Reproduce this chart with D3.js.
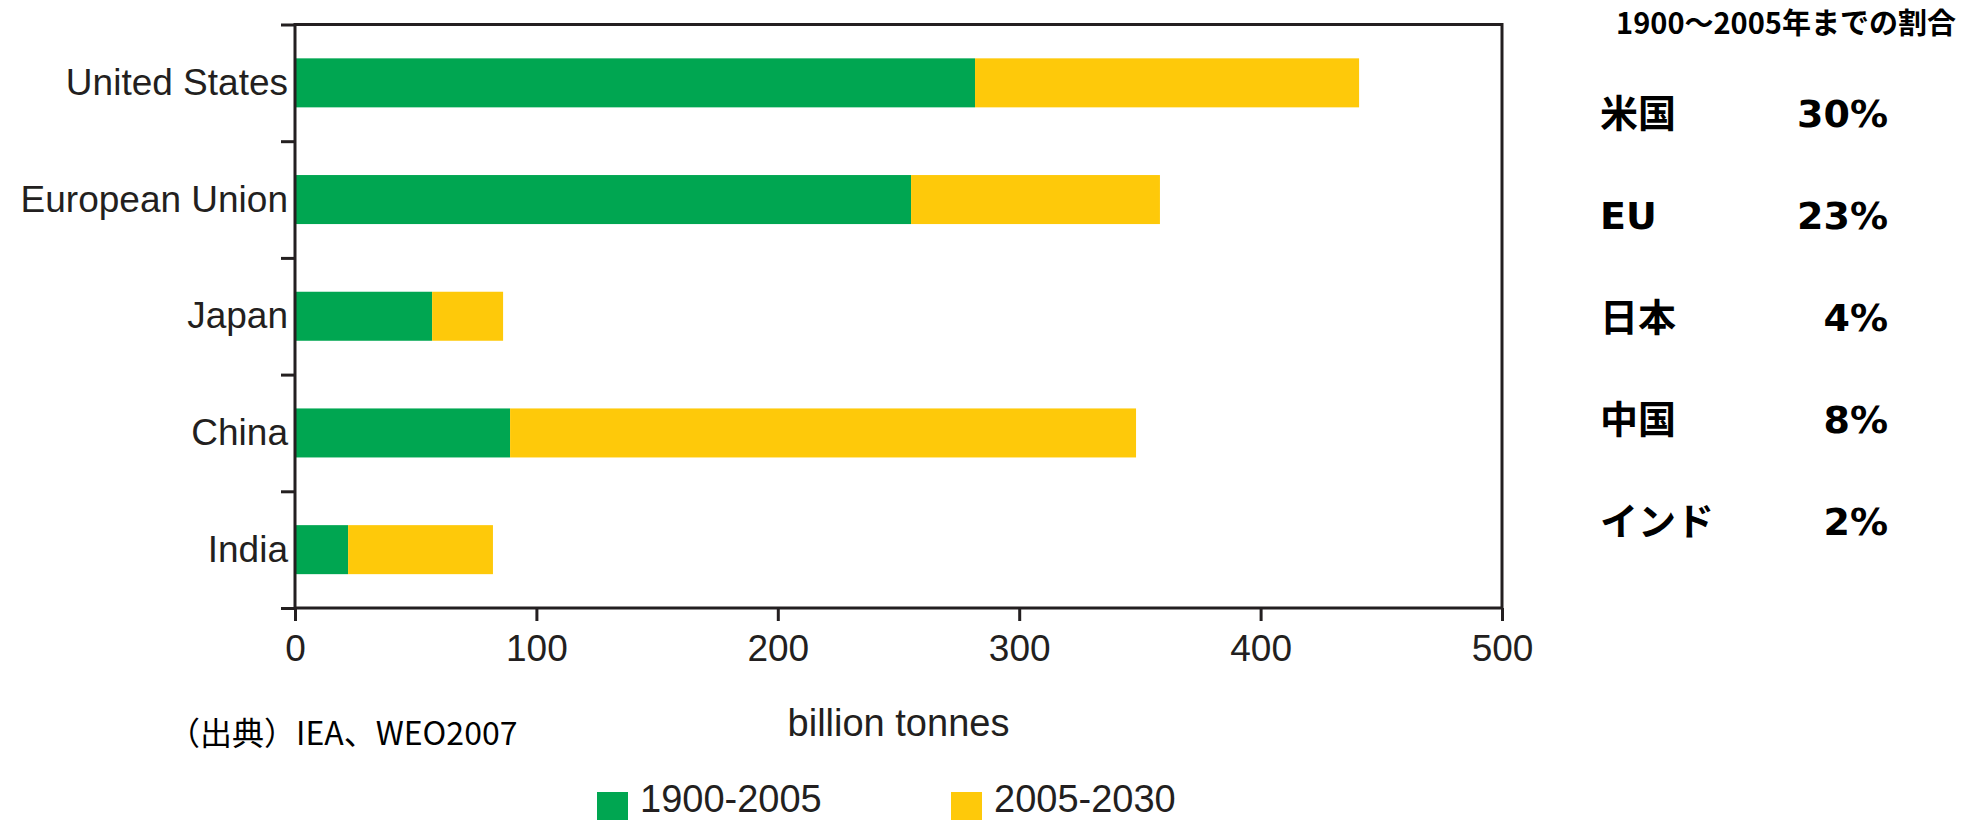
<!DOCTYPE html>
<html>
<head>
<meta charset="utf-8">
<script src="https://cdn.jsdelivr.net/npm/d3@7"></script>
<style>
  body { margin: 0; background: #fff; }
  svg { display: block; }
</style>
</head>
<body>
<svg id="svg1" width="1985" height="820"></svg>
<script>
// data (billion tonnes)
var countries = ["United States", "European Union", "Japan", "China", "India"];
var hist = [281.7, 255.2, 56.8, 89.1, 22.0];     // 1900-2005
var future = [159.1, 103.1, 29.4, 259.3, 60.0];  // 2005-2030
var seriesNames = ["1900-2005", "2005-2030"];
var xTicks = [0, 100, 200, 300, 400, 500];

// share table on the right
var shareTitle = "1900～2005年までの割合";
var shareLabels = ["米国", "EU", "日本", "中国", "インド"];
var shareValues = ["30%", "23%", "4%", "8%", "2%"];
var sourceText = "（出典）IEA、WEO2007";

// layout (note: "top" is reserved on window, so use plot* names)
var plotLeft = 295, plotRight = 1502, plotTop = 24.5, plotBottom = 608;
var ink = "#231f20";
var colours = ["#00a651", "#fec90a"];
var latin = "'Liberation Sans', Arial, sans-serif";

var svg = d3.select("#svg1");

// scales
var xScale = d3.scaleLinear().domain([0, 500]).range([plotLeft, plotRight]);
var yScale = d3.scaleBand().domain(countries).range([plotTop, plotBottom])
    .paddingInner(0.58).paddingOuter(0.29);
var yEdge = d3.scaleLinear().domain([0, countries.length]).range([plotTop, plotBottom]);

// stacked table built from the arrays
var table = countries.map(function(c, i) {
    return { country: c, "1900-2005": hist[i], "2005-2030": future[i] };
});
var stacked = d3.stack().keys(seriesNames)(table);

// BARS
svg.append("g")
  .selectAll("g")
    .data(stacked)
    .enter().append("g")
    .attr("fill", function(d, i) { return colours[i]; })
  .selectAll("rect")
    .data(function(d) { return d; })
    .enter().append("rect")
    .attr("x", function(d) { return xScale(d[0]); })
    .attr("width", function(d) { return xScale(d[1]) - xScale(d[0]); })
    .attr("y", function(d) { return yScale(d.data.country); })
    .attr("height", yScale.bandwidth());

// LEFT TICKS (at band edges)
var yAxis = svg.append("g")
    .attr("transform", "translate(" + plotLeft + ",0)")
    .call(d3.axisLeft(yEdge).tickValues(d3.range(countries.length + 1))
        .tickSize(14).tickFormat(""));
yAxis.select(".domain").remove();
yAxis.selectAll("line").attr("stroke", ink).attr("stroke-width", 3);

// country labels
svg.append("g")
  .selectAll("text")
    .data(countries)
    .enter().append("text")
    .attr("x", plotLeft - 7)
    .attr("y", function(d) { return yScale(d) + yScale.bandwidth() / 2 + 12; })
    .attr("text-anchor", "end")
    .style("font-family", latin)
    .style("font-size", "37px")
    .style("fill", ink)
    .text(function(d) { return d; });

// BOTTOM AXIS
var xAxis = svg.append("g")
    .attr("transform", "translate(0," + plotBottom + ")")
    .call(d3.axisBottom(xScale).tickValues(xTicks).tickSize(13).tickPadding(14));
xAxis.select(".domain").remove();
xAxis.selectAll("line").attr("stroke", ink).attr("stroke-width", 3);
xAxis.selectAll("text")
    .style("font-family", latin)
    .style("font-size", "37px")
    .style("fill", ink);

// frame
svg.append("rect")
    .attr("x", plotLeft).attr("y", plotTop)
    .attr("width", plotRight - plotLeft).attr("height", plotBottom - plotTop)
    .attr("fill", "none").attr("stroke", ink).attr("stroke-width", 3);

// axis title
svg.append("text")
    .attr("x", (plotLeft + plotRight) / 2)
    .attr("y", 736)
    .attr("text-anchor", "middle")
    .style("font-family", latin)
    .style("font-size", "38px")
    .style("fill", ink)
    .text("billion tonnes");

// source
svg.append("text")
    .attr("x", 168)
    .attr("y", 745)
    .style("font-family", "'Noto Sans CJK JP', sans-serif")
    .style("font-size", "32px")
    .style("fill", "#000")
    .text(sourceText);

// LEGEND
var legendX = [597, 951];
var legend = svg.append("g")
  .selectAll("g")
    .data(seriesNames)
    .enter().append("g")
    .attr("transform", function(d, i) { return "translate(" + legendX[i] + ",792)"; });
legend.append("rect")
    .attr("width", 31).attr("height", 28)
    .attr("fill", function(d, i) { return colours[i]; });
legend.append("text")
    .attr("x", 43).attr("y", 20)
    .style("font-family", latin)
    .style("font-size", "38px")
    .style("fill", ink)
    .text(function(d) { return d; });

// SHARE TABLE
svg.append("text")
    .attr("x", 1786)
    .attr("y", 34)
    .attr("text-anchor", "middle")
    .style("font-family", "'Noto Sans CJK JP', sans-serif")
    .style("font-weight", "bold")
    .style("font-size", "29px")
    .style("fill", "#000")
    .text(shareTitle);

var rowScale = d3.scaleBand().domain(shareLabels).range([62, 572]);
var rows = svg.append("g")
  .selectAll("g")
    .data(shareLabels)
    .enter().append("g")
    .attr("transform", function(d) {
        return "translate(0," + (rowScale(d) + rowScale.bandwidth() / 2 + 14) + ")";
    })
    .style("font-family", "'DejaVu Sans', 'Noto Sans CJK JP', sans-serif")
    .style("font-weight", "bold")
    .style("font-size", "38px")
    .style("fill", "#000");
rows.append("text")
    .attr("x", 1600)
    .text(function(d) { return d; });
rows.append("text")
    .attr("x", 1888)
    .attr("text-anchor", "end")
    .text(function(d, i) { return shareValues[i]; });
</script>
</body>
</html>
